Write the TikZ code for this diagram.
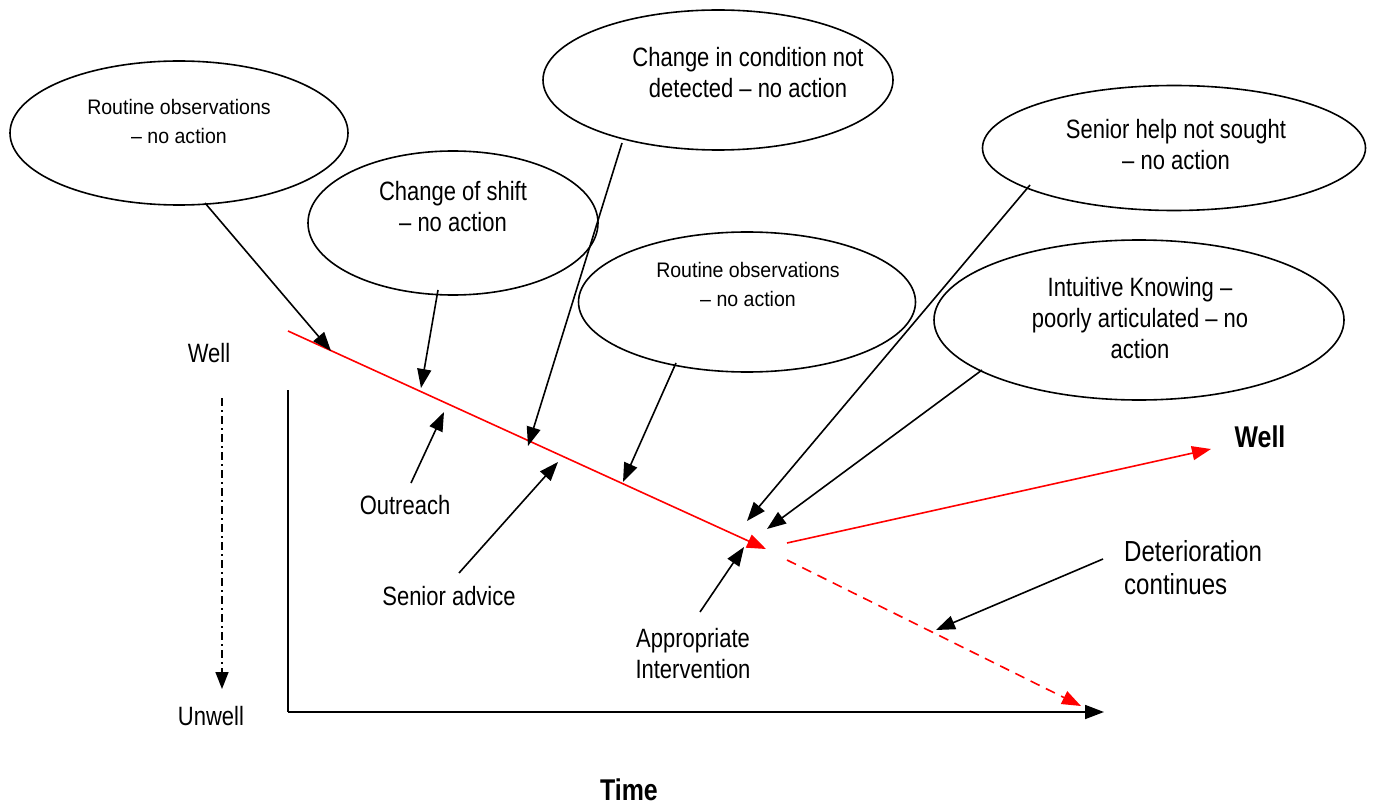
\documentclass[tikz,border=0pt]{standalone}
\usepackage{fontspec}
\setmainfont{Liberation Sans}
\newfontfamily\narrowfont[FakeStretch=0.93]{Liberation Sans}
\newfontfamily\condfont[FakeStretch=0.83]{Liberation Sans}
\usetikzlibrary{arrows.meta,shapes.geometric}
\tikzset{
  bubble/.style={draw, line width=1.6pt, ellipse, inner sep=0pt},
  lbl/.style={font=\condfont\fontsize{26.5}{31}\selectfont, align=center, inner sep=0pt},
  biglbl/.style={font=\condfont\fontsize{29}{33}\selectfont, align=left, inner sep=0pt},
  boldlbl/.style={font=\condfont\fontsize{30}{33}\selectfont\bfseries, inner sep=0pt},
  smalllbl/.style={font=\narrowfont\fontsize{21}{29}\selectfont, align=center, inner sep=0pt},
  ptr/.style={line width=1.6pt, -{Triangle[length=19pt,width=14pt]}},
  redln/.style={draw=red, line width=1.6pt},
  redtip/.style={-{Triangle[length=19pt,width=14pt,fill=red]}},
  axis/.style={line width=1.8pt}
}
\begin{document}
\begin{tikzpicture}[x=1pt,y=-1pt]
\useasboundingbox (0,0) rectangle (1373,805);
% bubbles
\node[bubble, minimum width=338pt, minimum height=144pt] (e1) at (179,133) {};
\node[bubble, minimum width=290pt, minimum height=144pt] (e2) at (453,223) {};
\node[bubble, minimum width=350pt, minimum height=140pt] (e3) at (718,80) {};
\node[bubble, minimum width=337pt, minimum height=140pt] (e4) at (747,302) {};
\node[bubble, minimum width=383pt, minimum height=125pt] (e5) at (1174,148) {};
\node[bubble, minimum width=410pt, minimum height=160pt] (e6) at (1139,320) {};
% bubble texts
\node[smalllbl] (t1) at (179,121) {Routine observations\\– no action};
\node[lbl] (t2) at (453,207) {Change of shift\\– no action};
\node[lbl] (t3) at (748,73) {Change in condition not\\detected – no action};
\node[smalllbl] (t4) at (748,284) {Routine observations\\– no action};
\node[lbl] (t5) at (1176,145) {Senior help not sought\\– no action};
\node[lbl] (t6) at (1140,318) {Intuitive Knowing –\\poorly articulated – no\\action};
% axis labels
\node[lbl] (well) at (209,353) {Well};
\node[lbl] (unwell) at (211,716) {Unwell};
\node[boldlbl] (time) at (629,790) {Time};
\node[boldlbl] (well2) at (1260,437) {Well};
\node[biglbl, anchor=west] (det) at (1124,568) {Deterioration\\continues};
\node[lbl] (outreach) at (405,505) {Outreach};
\node[lbl] (senior) at (449,596) {Senior advice};
\node[lbl] (approp) at (693,654) {Appropriate\\Intervention};
% coordinates
\coordinate (ytop) at (288,390);
\coordinate (origin) at (288,712);
\coordinate (xend) at (1104,712);
\coordinate (dstart) at (222,398);
\coordinate (dend) at (222,689);
\coordinate (rs) at (288,331);
\coordinate (re) at (766,549);
\coordinate (gs) at (787,543);
\coordinate (ge) at (1211,449);
\coordinate (ds) at (787,560);
\coordinate (de) at (1081,706);
% axes
\draw[axis] (ytop) -- (origin);
\draw[axis, -{Triangle[length=19pt,width=14pt]}] (origin) -- (xend);
\draw[line width=1.6pt, dash pattern=on 8pt off 4pt on 2pt off 4pt, -{Triangle[length=17pt,width=13pt]}] (dstart) -- (dend);
% red paths
\draw[redln, redtip] (rs) -- (re);
\draw[redln, redtip] (gs) -- (ge);
\draw[redln, redtip, dash pattern=on 10pt off 7pt] (ds) -- (de);
% pointers
\coordinate (a1s) at (205,203); \coordinate (a1e) at (331,351);
\coordinate (a2s) at (438,290); \coordinate (a2e) at (421,388);
\coordinate (a3s) at (622,143); \coordinate (a3e) at (528,446);
\coordinate (a4s) at (676,363); \coordinate (a4e) at (623,482);
\coordinate (a5s) at (1030,185); \coordinate (a5e) at (747,521);
\coordinate (a6s) at (982,370); \coordinate (a6e) at (767,529);
\coordinate (b1s) at (411,483); \coordinate (b1e) at (444,412);
\coordinate (b2s) at (459,573); \coordinate (b2e) at (558,462);
\coordinate (b3s) at (700,612); \coordinate (b3e) at (744,547);
\coordinate (b4s) at (1103,559); \coordinate (b4e) at (936,630);
\foreach \a in {a1,a2,a3,a4,a5,a6,b1,b2,b3,b4}{
  \draw[ptr] (\a s) -- (\a e);
}
\end{tikzpicture}
\end{document}
